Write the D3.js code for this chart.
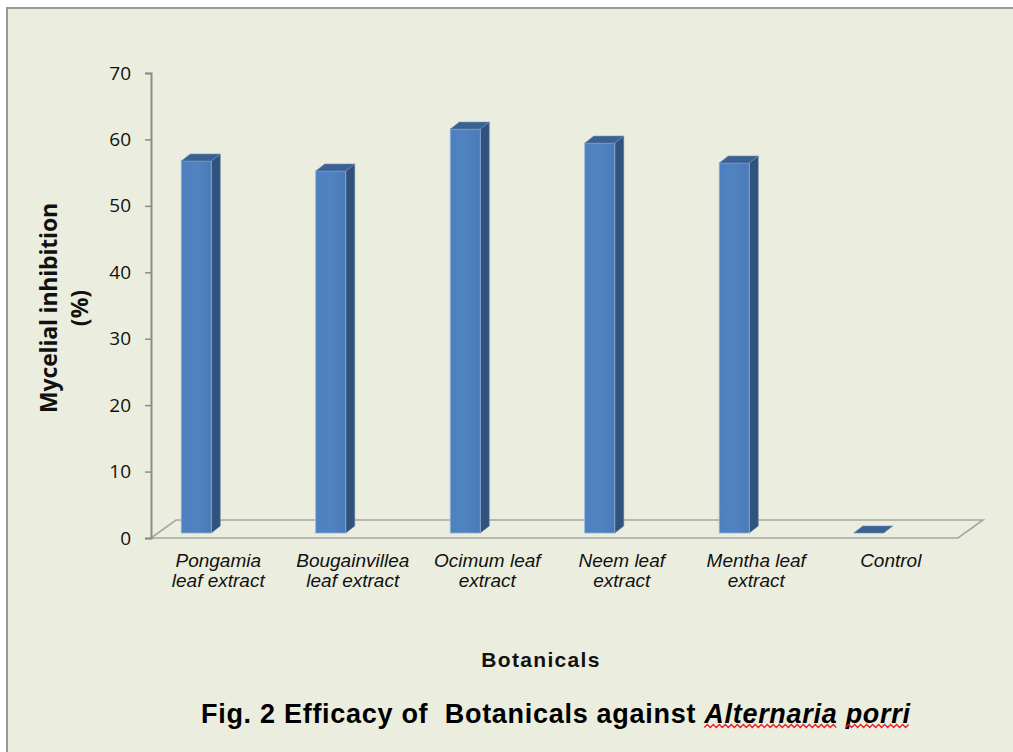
<!DOCTYPE html>
<html>
<head>
<meta charset="utf-8">
<script src="https://cdn.jsdelivr.net/npm/d3@7/dist/d3.min.js"></script>
<style>
  html, body { margin: 0; padding: 0; background: #ffffff; }
  svg { display: block; }
</style>
</head>
<body>
<svg id="chart" width="1013" height="752"></svg>
<script>
// ---- Data ----
const categories = [
  ["Pongamia", "leaf extract"],
  ["Bougainvillea", "leaf extract"],
  ["Ocimum leaf", "extract"],
  ["Neem leaf", "extract"],
  ["Mentha leaf", "extract"],
  ["Control"]
];
const values = [56.0, 54.5, 60.8, 58.7, 55.7, 0];
const yTicks = [0, 10, 20, 30, 40, 50, 60, 70];
const yTitleLines = ["Mycelial inhibition", "(%)"];
const xTitle = "Botanicals";
const figTitlePlain = "Fig. 2 Efficacy of  Botanicals against ";
const figTitleItalic = "Alternaria porri";

// ---- Layout ----
const svg = d3.select("#chart");
const W = 1013, H = 752;

svg.append("rect").attr("x", 0).attr("y", 0).attr("width", W).attr("height", H).attr("fill", "#ffffff");
svg.append("rect").attr("x", 7).attr("y", 8).attr("width", W + 10).attr("height", H + 10)
  .attr("fill", "#EBEEDE").attr("stroke", "#9a9a9a").attr("stroke-width", 2);

const axisX = 151;
const floorFrontY = 538;
const x0 = 151, x1 = 958;
const floorDx = 25, floorDy = 18;
const barDx = 9, barDy = 7;
const barShift = 5;
const barW = 30;
const barOffset = -22;

const y = d3.scaleLinear().domain([0, 70]).range([floorFrontY, 73]);
const x = d3.scaleBand().domain(d3.range(categories.length)).range([x0, x1]).padding(0);

function fitWidth(sel, target) {
  const node = sel.node();
  const len = node.getComputedTextLength();
  const n = node.textContent.length;
  if (n > 1) sel.attr("letter-spacing", (target - len) / (n - 1));
}

// ---- Floor ----
svg.append("path")
  .attr("d", `M${x0},${floorFrontY} L${x1},${floorFrontY} L${x1 + floorDx},${floorFrontY - floorDy} L${x0 + floorDx},${floorFrontY - floorDy} Z`)
  .attr("fill", "none").attr("stroke", "#a6a6a6").attr("stroke-width", 1.6);

// ---- Y axis ----
const yAxis = d3.axisLeft(y).tickValues(yTicks).tickSize(6).tickPadding(14).tickFormat(d3.format("d"));
const ag = svg.append("g").attr("transform", `translate(${axisX},0)`).call(yAxis);
ag.select(".domain").attr("stroke", "#8c8c8c").attr("stroke-width", 2);
ag.selectAll(".tick line").attr("stroke", "#8c8c8c").attr("stroke-width", 1.5);
ag.selectAll(".tick text")
  .attr("font-family", "'Open Sans', sans-serif").attr("font-size", 19).attr("fill", "#111");

// ---- Bars (pseudo 3D) ----
const defs = svg.append("defs");
const grad = defs.append("linearGradient").attr("id", "front").attr("x1", "0").attr("x2", "1").attr("y1", "0").attr("y2", "0");
grad.append("stop").attr("offset", "0").attr("stop-color", "#4D80C0");
grad.append("stop").attr("offset", "0.5").attr("stop-color", "#5183C0");
grad.append("stop").attr("offset", "1").attr("stop-color", "#4A7AB6");

const bars = svg.append("g");
values.forEach((v, i) => {
  const cx = x(i) + x.bandwidth() / 2 + barOffset;
  const bl = cx - barW / 2, br = cx + barW / 2;
  const yb = y(0) - barShift;
  const yt = y(v) - barShift;
  const g = bars.append("g");
  if (v > 0) {
    g.append("path")
      .attr("d", `M${br},${yb} L${br + barDx},${yb - barDy} L${br + barDx},${yt - barDy} L${br},${yt} Z`)
      .attr("fill", "#31527C").attr("stroke", "#5c7fa8").attr("stroke-width", 0.6);
    g.append("rect").attr("x", bl).attr("y", yt).attr("width", barW).attr("height", yb - yt)
      .attr("fill", "url(#front)").attr("stroke", "#8fb0d8").attr("stroke-width", 0.8);
  }
  g.append("path")
    .attr("d", `M${bl},${yt} L${bl + barDx},${yt - barDy} L${br + barDx},${yt - barDy} L${br},${yt} Z`)
    .attr("fill", "#3A6192").attr("stroke", "#6d8fba").attr("stroke-width", 0.6);
});

// ---- Category labels ----
const lab = svg.append("g");
categories.forEach((lines, i) => {
  const t = lab.append("text")
    .attr("x", x(i) + x.bandwidth() / 2)
    .attr("y", 567)
    .attr("text-anchor", "middle")
    .attr("font-family", "'Liberation Sans', Arial, sans-serif")
    .attr("font-style", "italic")
    .attr("font-size", 19)
    .attr("fill", "#111");
  lines.forEach((l, k) => {
    t.append("tspan").attr("x", x(i) + x.bandwidth() / 2).attr("dy", k === 0 ? 0 : 20).text(l);
  });
});

// ---- Y title ----
const ytg = svg.append("g").attr("transform", "translate(57,308) rotate(-90)");
yTitleLines.forEach((l, k) => {
  const t = ytg.append("text")
    .attr("x", 0).attr("y", k * 31)
    .attr("text-anchor", "middle")
    .attr("font-family", "'Open Sans', sans-serif")
    .attr("font-weight", "bold")
    .attr("font-size", 23)
    .attr("fill", "#111")
    .text(l);
  if (k === 0) fitWidth(t, 210);
});

// ---- X title ----
const xt = svg.append("text")
  .attr("x", 541).attr("y", 667)
  .attr("text-anchor", "middle")
  .attr("font-family", "'Liberation Sans', Arial, sans-serif")
  .attr("font-weight", "bold")
  .attr("font-size", 21)
  .attr("fill", "#111")
  .text(xTitle);
fitWidth(xt, 118);

// ---- Figure title ----
const ft = svg.append("text")
  .attr("x", 201).attr("y", 723)
  .attr("font-family", "'Liberation Sans', Arial, sans-serif")
  .attr("font-weight", "bold")
  .attr("font-size", 27)
  .attr("fill", "#000")
  .style("white-space", "pre");
ft.append("tspan").text(figTitlePlain);
ft.append("tspan").attr("font-style", "italic").text(figTitleItalic);
fitWidth(ft, 709);

// red wavy spell-check underline under the italic words
const node = ft.node();
const words = figTitleItalic.split(" ");
let idx = figTitlePlain.length;
words.forEach(w => {
  const sx = node.getStartPositionOfChar(idx).x;
  const ex = node.getEndPositionOfChar(idx + w.length - 1).x;
  idx += w.length + 1;
  let d = `M${sx},727.5`;
  let up = true;
  for (let px = sx + 3; px <= ex; px += 3) {
    d += ` L${px},${up ? 724.5 : 727.5}`;
    up = !up;
  }
  svg.append("path").attr("d", d).attr("fill", "none").attr("stroke", "#e8202a").attr("stroke-width", 1.3);
});
</script>
</body>
</html>
